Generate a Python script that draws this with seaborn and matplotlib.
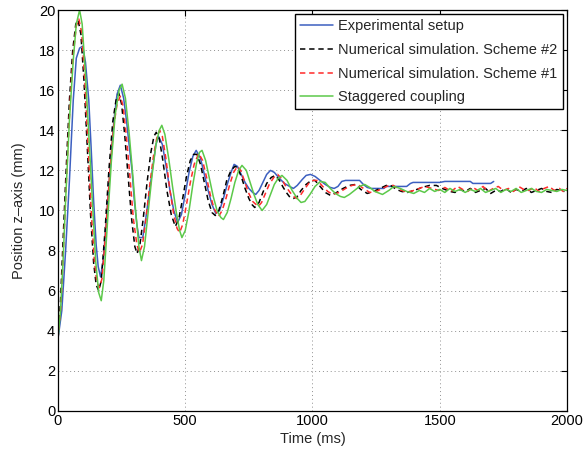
import matplotlib
matplotlib.use("Agg")
import matplotlib.pyplot as plt
import seaborn as sns
import pandas as pd

# Values: (time in ms, position in mm)
exp_pts = [(0, 3.6), (15, 5.0), (30, 8.0), (45, 11.5), (60, 15.5), (72, 17.6), (85, 18.1), (97, 18.2),
           (108, 17.4), (121, 15.5), (130, 13.2), (140, 10.5), (150, 8.3), (158, 7.2), (167, 6.7),
           (178, 7.5), (190, 9.5), (206, 12.2), (220, 14.5), (232, 15.8), (245, 16.25), (258, 15.6),
           (270, 14.4), (282, 13.0), (291, 12.0), (300, 10.5), (310, 9.3), (318, 8.65), (333, 8.65),
           (345, 9.6), (360, 11.0), (375, 12.4), (385, 13.3), (395, 13.7), (410, 13.3), (425, 12.2),
           (440, 11.0), (455, 10.0), (470, 9.4), (485, 9.8), (500, 10.8), (515, 11.9), (530, 12.7),
           (543, 13.0), (560, 12.6), (575, 11.8), (590, 11.0), (605, 10.3), (620, 9.85), (635, 10.0),
           (650, 10.6), (665, 11.3), (680, 11.9), (692, 12.3), (705, 12.2), (720, 11.8), (735, 11.4),
           (750, 11.1), (765, 10.9), (777, 10.8), (790, 11.0), (805, 11.4), (820, 11.8), (835, 12.0),
           (850, 11.9), (870, 11.6), (890, 11.35), (910, 11.2), (925, 11.1), (940, 11.25), (960, 11.55),
           (975, 11.75), (992, 11.8), (1010, 11.7), (1030, 11.5), (1050, 11.3), (1070, 11.15),
           (1085, 11.1), (1100, 11.2), (1115, 11.45), (1130, 11.5), (1185, 11.5), (1200, 11.3),
           (1215, 11.15), (1230, 11.1), (1280, 11.1), (1290, 11.2), (1370, 11.2), (1385, 11.35),
           (1395, 11.4), (1500, 11.4), (1520, 11.45), (1620, 11.45), (1630, 11.35), (1700, 11.35),
           (1712, 11.45)]

sch2_pts = [(0, 3.6), (10, 5.5), (20, 8.5), (32, 12.0), (45, 15.5), (58, 18.0), (70, 19.3), (79, 19.5),
            (90, 18.8), (102, 16.5), (115, 13.2), (128, 9.8), (140, 7.4), (150, 6.3), (160, 6.0),
            (170, 6.5), (185, 9.0), (200, 12.0), (215, 14.4), (228, 15.5), (239, 15.85), (250, 15.3),
            (262, 13.8), (275, 11.8), (290, 9.5), (302, 8.2), (311, 7.85), (322, 8.3), (335, 9.6),
            (350, 11.4), (365, 12.9), (377, 13.7), (386, 13.9), (398, 13.6), (412, 12.5), (428, 11.0),
            (445, 9.8), (461, 9.2), (475, 9.6), (490, 10.6), (505, 11.7), (520, 12.5), (533, 12.8),
            (546, 12.8), (560, 12.3), (575, 11.4), (590, 10.5), (605, 9.9), (618, 9.75), (632, 10.0),
            (648, 10.7), (663, 11.5), (680, 12.0), (695, 12.2), (705, 12.15), (720, 11.7), (735, 11.1),
            (750, 10.6), (762, 10.3), (773, 10.15), (790, 10.4), (805, 10.9), (820, 11.35), (838, 11.65),
            (854, 11.75), (870, 11.5), (885, 11.15), (900, 10.85), (912, 10.65), (925, 10.6),
            (940, 10.7), (955, 11.0), (975, 11.3), (995, 11.5), (1010, 11.5), (1030, 11.2), (1050, 10.9),
            (1071, 10.75), (1095, 10.9), (1120, 11.1), (1145, 11.25), (1169, 11.3), (1190, 11.05),
            (1215, 10.85), (1240, 10.95), (1265, 11.1), (1290, 11.25), (1307, 11.25), (1330, 11.05),
            (1350, 10.95), (1373, 10.9), (1400, 11.0), (1430, 11.15), (1460, 11.25), (1487, 11.25),
            (1510, 11.1), (1540, 10.95), (1560, 10.9), (1580, 11.05), (1600, 10.95), (1620, 11.1),
            (1640, 10.9), (1660, 11.0), (1680, 11.1), (1700, 10.85), (1720, 11.0), (1740, 10.95),
            (1760, 11.1), (1780, 10.9), (1800, 11.05), (1820, 10.95), (1840, 11.1), (1860, 10.9),
            (1880, 11.0), (1900, 11.1), (1920, 10.95), (1940, 10.9), (1960, 11.05), (1975, 11.0),
            (1990, 10.95)]

sch1_pts = [(0, 3.6), (12, 5.3), (22, 8.2), (35, 12.0), (48, 15.5), (60, 17.8), (72, 19.2), (82, 19.55),
            (93, 18.9), (105, 16.6), (118, 13.3), (131, 9.9), (143, 7.5), (153, 6.4), (163, 6.15),
            (173, 6.6), (188, 9.0), (203, 11.8), (218, 14.1), (232, 15.3), (245, 15.7), (256, 15.2),
            (268, 13.8), (282, 11.8), (296, 9.6), (310, 8.3), (320, 7.9), (332, 8.3), (345, 9.5),
            (360, 11.2), (375, 12.7), (388, 13.6), (399, 14.0), (410, 13.7), (424, 12.6), (440, 11.0),
            (455, 9.8), (468, 9.1), (478, 8.9), (490, 9.3), (505, 10.3), (520, 11.4), (535, 12.3),
            (553, 12.85), (568, 12.5), (583, 11.7), (598, 10.8), (613, 10.1), (631, 9.7), (645, 10.0),
            (660, 10.6), (675, 11.3), (690, 11.9), (705, 12.2), (718, 12.0), (732, 11.5), (748, 10.9),
            (765, 10.45), (787, 10.2), (800, 10.4), (815, 10.85), (830, 11.3), (848, 11.65), (863, 11.8),
            (878, 11.6), (895, 11.2), (912, 10.9), (925, 10.7), (938, 10.6), (952, 10.75), (968, 11.05),
            (985, 11.35), (1002, 11.5), (1020, 11.5), (1040, 11.2), (1060, 10.95), (1080, 10.8),
            (1105, 10.9), (1130, 11.1), (1155, 11.25), (1178, 11.3), (1200, 11.1), (1225, 10.9),
            (1250, 10.95), (1275, 11.1), (1300, 11.25), (1318, 11.25), (1340, 11.05), (1362, 10.95),
            (1385, 10.95), (1410, 11.05), (1440, 11.2), (1470, 11.1), (1495, 11.0), (1520, 11.15),
            (1545, 10.95), (1570, 11.2), (1590, 11.05), (1610, 10.95), (1630, 11.15), (1650, 11.0),
            (1670, 11.2), (1690, 10.95), (1710, 11.1), (1730, 11.2), (1750, 11.0), (1770, 11.1),
            (1790, 10.95), (1810, 11.2), (1830, 11.05), (1850, 11.0), (1870, 11.15), (1890, 10.95),
            (1910, 11.1), (1930, 11.2), (1950, 11.0), (1970, 11.1), (1985, 10.95), (2000, 11.1)]

stag_pts = [(0, 3.6), (10, 5.0), (20, 7.5), (30, 10.5), (45, 14.5), (60, 17.5), (72, 19.3), (85, 20.0),
            (95, 19.3), (108, 16.8), (121, 13.8), (135, 10.5), (148, 7.5), (160, 5.9), (170, 5.5),
            (180, 6.5), (195, 9.5), (210, 12.5), (225, 14.8), (240, 16.0), (252, 16.3), (265, 15.6),
            (280, 13.8), (295, 11.6), (305, 10.0), (318, 8.2), (328, 7.5), (340, 8.2), (355, 10.0),
            (370, 11.8), (385, 13.3), (398, 14.0), (408, 14.25), (420, 13.8), (435, 12.6), (450, 11.2),
            (465, 9.9), (478, 9.0), (487, 8.65), (500, 9.0), (515, 10.0), (530, 11.3), (545, 12.4),
            (556, 12.9), (566, 13.0), (580, 12.5), (595, 11.6), (610, 10.7), (625, 10.0), (640, 9.65),
            (650, 9.55), (665, 9.9), (680, 10.6), (695, 11.4), (710, 12.0), (723, 12.25), (740, 12.0),
            (755, 11.4), (770, 10.8), (785, 10.3), (802, 10.0), (820, 10.3), (835, 10.8), (850, 11.3),
            (865, 11.6), (880, 11.75), (900, 11.5), (920, 11.0), (940, 10.6), (955, 10.4), (970, 10.45),
            (990, 10.8), (1010, 11.2), (1031, 11.45), (1050, 11.4), (1070, 11.1), (1090, 10.85),
            (1110, 10.7), (1125, 10.65), (1145, 10.8), (1165, 11.0), (1185, 11.2), (1205, 11.3),
            (1225, 11.15), (1245, 10.95), (1275, 10.8), (1300, 11.0), (1320, 11.2), (1345, 11.1),
            (1370, 10.95), (1398, 10.85), (1420, 11.0), (1440, 10.9), (1460, 11.1), (1480, 10.95),
            (1500, 11.05), (1520, 10.9), (1540, 11.1), (1560, 10.95), (1580, 11.05), (1600, 10.9),
            (1620, 11.05), (1640, 10.95), (1660, 11.1), (1680, 10.9), (1700, 11.0), (1720, 11.1),
            (1740, 10.9), (1760, 11.05), (1780, 10.95), (1800, 11.1), (1820, 10.9), (1840, 11.0),
            (1860, 11.1), (1880, 10.95), (1900, 10.9), (1920, 11.05), (1940, 11.0), (1960, 10.95),
            (1980, 11.05), (2000, 11.0)]

labels = ["Experimental setup", "Numerical simulation. Scheme #2",
          "Numerical simulation. Scheme #1", "Staggered coupling"]
colors = ["#3c5fc0", "#000000", "#ff2a2a", "#5cc94a"]
styles = ["-", (0, (3.5, 2.5)), (0, (3.5, 2.5)), "-"]
x_ticks = [0, 500, 1000, 1500, 2000]
y_ticks = [0, 2, 4, 6, 8, 10, 12, 14, 16, 18, 20]

sns.set_theme(style="white")
plt.rcParams["font.family"] = ["Liberation Sans", "DejaVu Sans"]

fig = plt.figure(figsize=(5.88, 4.59), dpi=100)
ax = fig.add_axes([0.0986, 0.1046, 0.8657, 0.8736])

series = [exp_pts, sch2_pts, sch1_pts, stag_pts]
for pts, lab, col, ls in zip(series, labels, colors, styles):
    df = pd.DataFrame(pts, columns=["t", "v"])
    sns.lineplot(data=df, x="t", y="v", ax=ax, color=col, linestyle=ls,
                 linewidth=1.1, label=lab, sort=False)

ax.set_xlim(0, 2000)
ax.set_ylim(0, 20)
ax.set_xticks(x_ticks)
ax.set_yticks(y_ticks)
ax.tick_params(direction="in", top=True, right=True, length=4, width=0.8,
               labelsize=10.5, colors="black", pad=2)
ax.grid(True, linestyle=(0, (1, 3)), color="#909090", linewidth=0.7)
for s in ax.spines.values():
    s.set_color("black")
    s.set_linewidth(0.9)

ax.set_xlabel("Time (ms)", fontsize=10.5, labelpad=3)
ax.set_ylabel("Position z–axis (mm)", fontsize=10.5, labelpad=9)

leg = ax.legend(loc="upper right", fontsize=10.5, frameon=True, fancybox=False,
                handlelength=2.3, handletextpad=0.35, labelspacing=0.66,
                borderpad=0.35, borderaxespad=0.3, framealpha=1)
leg.get_frame().set_edgecolor("black")
leg.get_frame().set_linewidth(1.0)

fig.savefig("out.png", dpi=100)
